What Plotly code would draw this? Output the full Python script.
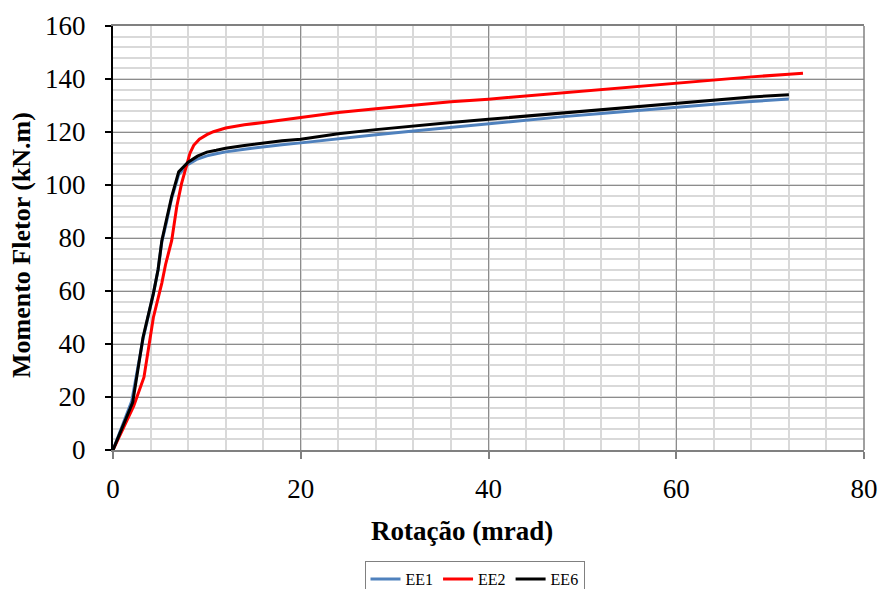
import plotly.graph_objects as go

# Data
ee1_x = [0, 1, 2.0, 3.2, 4.3, 4.8, 5.2, 5.7, 6.25, 7.0, 8.0, 9, 10, 11, 12, 14, 16, 18, 20, 24, 28, 32, 36, 40, 44, 48, 52, 56, 60, 64, 68, 72]
ee1_y = [0, 9, 18.5, 42, 59, 68, 78.5, 86, 95, 104, 107.8, 109.8, 111, 111.8, 112.5, 113.5, 114.4, 115.2, 115.9, 117.5, 119, 120.4, 121.8, 123.2, 124.5, 125.8, 127, 128.2, 129.4, 130.5, 131.5, 132.5]

ee2_x = [0, 1, 2.2, 3.3, 4.3, 5.2, 5.6, 6.25, 6.8, 7.3, 7.7, 8.2, 8.6, 9.2, 10, 10.7, 12, 14, 16, 18, 20, 24, 28, 32, 36, 40, 44, 48, 52, 56, 60, 64, 68, 72, 73.5]
ee2_y = [0, 7.5, 16.5, 27.5, 50, 63, 70, 79, 92, 100.5, 106, 112, 115, 117.3, 119, 120.1, 121.5, 122.7, 123.6, 124.6, 125.6, 127.4, 128.8, 130.2, 131.4, 132.4, 133.6, 134.9, 136.1, 137.4, 138.6, 139.8, 140.8, 141.8, 142.2]

ee6_x = [0, 1, 2.1, 3.2, 4.3, 4.8, 5.2, 5.7, 6.25, 7.0, 8.0, 9, 10, 11, 12, 14, 16, 18, 20, 24, 28, 32, 36, 40, 44, 48, 52, 56, 60, 64, 68, 72]
ee6_y = [0, 8.5, 18, 42.5, 59, 68, 79, 87, 95.6, 105, 108.6, 110.9, 112.4, 113.1, 113.9, 114.9, 115.9, 116.7, 117.3, 119.3, 120.9, 122.3, 123.6, 124.8, 126.0, 127.2, 128.5, 129.8, 131.0, 132.2, 133.2, 134.1]

series = [
    ("EE1", ee1_x, ee1_y, "#4F81BD"),
    ("EE2", ee2_x, ee2_y, "#FF0000"),
    ("EE6", ee6_x, ee6_y, "#000000"),
]

x_ticks = [0, 20, 40, 60, 80]
y_ticks = [0, 20, 40, 60, 80, 100, 120, 140, 160]

SERIF = "Liberation Serif, Times New Roman, serif"

fig = go.Figure()
for name, xs, ys, color in series:
    fig.add_trace(go.Scatter(x=xs, y=ys, mode="lines", name=name,
                             line=dict(color=color, width=3)))

W, H = 882, 589
ml, mr, mt, mb = 113, 18, 26, 139
PW, PH = W - ml - mr, H - mt - mb

fig.update_layout(
    width=W, height=H,
    margin=dict(l=ml, r=mr, t=mt, b=mb, autoexpand=False),
    paper_bgcolor="white", plot_bgcolor="white",
    font=dict(family=SERIF, color="black"),
    showlegend=True,
    legend=dict(orientation="h", x=(474.5 - ml) / PW, xanchor="center",
                y=(450 - 561) / PH, yanchor="top",
                bordercolor="#808080", borderwidth=1, bgcolor="white",
                font=dict(family=SERIF, size=16, color="black"),
                itemwidth=30, tracegroupgap=0),
    xaxis=dict(range=[0, 80], tickvals=x_ticks, ticks="outside", ticklen=7,
               tickcolor="#808080", tickwidth=1.5,
               showline=True, linecolor="#808080", linewidth=1.5,
               mirror=True,
               showgrid=True, gridcolor="#8C8C8C", gridwidth=1,
               minor=dict(dtick=4, showgrid=True, gridcolor="#D9D9D9", gridwidth=1.5, ticks=""),
               tickfont=dict(family=SERIF, size=27, color="black"),
               ticklabelstandoff=7, zeroline=False, fixedrange=True),
    yaxis=dict(range=[0, 160], tickvals=y_ticks, ticks="outside", ticklen=6,
               tickcolor="black", tickwidth=1.5,
               showline=True, linecolor="black", linewidth=2,
               showgrid=True, gridcolor="#8C8C8C", gridwidth=1,
               minor=dict(dtick=4, showgrid=True, gridcolor="#D9D9D9", gridwidth=1.5, ticks=""),
               tickfont=dict(family=SERIF, size=27, color="black"),
               ticklabelstandoff=14, zeroline=False, fixedrange=True),
    annotations=[
        dict(text="<b>Rotação (mrad)</b>", xref="paper", yref="paper",
             x=(462 - ml) / PW, y=(450 - 531) / PH, xanchor="center", yanchor="middle",
             showarrow=False, font=dict(family=SERIF, size=27, color="black")),
        dict(text="<b>Momento Fletor (kN.m)</b>", xref="paper", yref="paper",
             x=(21 - ml) / PW, y=(450 - 245) / PH, xanchor="center", yanchor="middle",
             textangle=-90, showarrow=False, font=dict(family=SERIF, size=26, color="black")),
    ],
)

# right-side border line of the plot area
fig.add_shape(type="line", xref="paper", yref="paper", x0=1, x1=1, y0=0, y1=1,
              line=dict(color="#808080", width=1.5))

fig.write_html("out.html")
